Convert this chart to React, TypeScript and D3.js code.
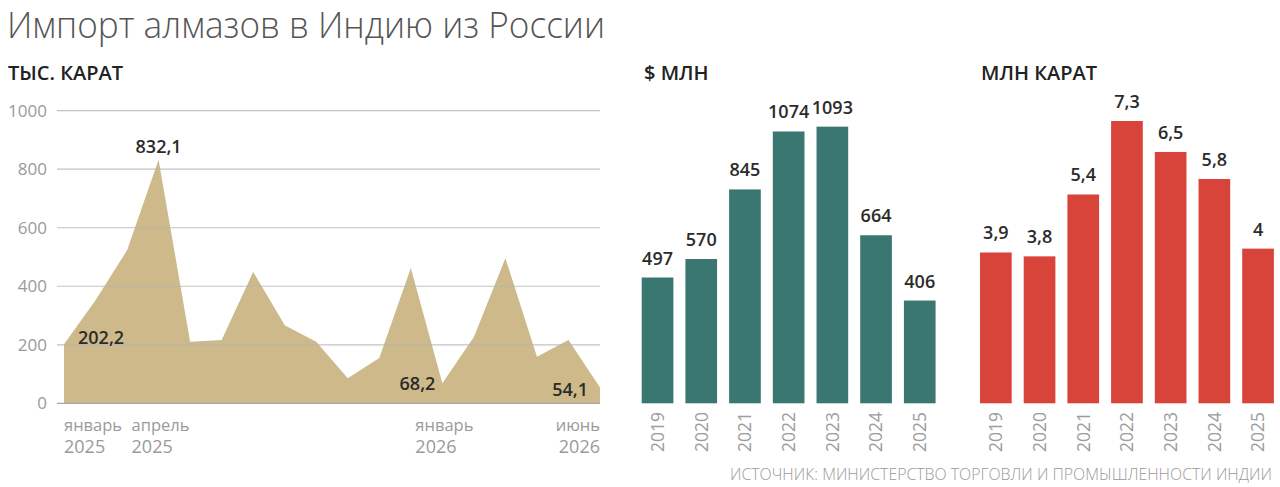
import { area as d3Area, curveLinear, scaleBand, scaleLinear } from "d3";

// Monthly imports, thousand carats (Jan 2025 – Jun 2026)
const months = [
  "январь 2025", "февраль 2025", "март 2025", "апрель 2025", "май 2025", "июнь 2025",
  "июль 2025", "август 2025", "сентябрь 2025", "октябрь 2025", "ноябрь 2025", "декабрь 2025",
  "январь 2026", "февраль 2026", "март 2026", "апрель 2026", "май 2026", "июнь 2026",
];
const monthlyCarats = [
  202.2, 352, 523, 832.1, 210, 216, 449, 267, 210, 86, 155, 462, 68.2, 227, 496, 159, 216, 54.1,
];
const labelledMonths = [0, 3, 12, 17];
const annotatedMonths = [0, 3, 12, 17];
const caratTicks = [0, 200, 400, 600, 800, 1000];

// Yearly totals
const years = ["2019", "2020", "2021", "2022", "2023", "2024", "2025"];
const usdMillions = [497, 570, 845, 1074, 1093, 664, 406];
const caratMillions = [3.9, 3.8, 5.4, 7.3, 6.5, 5.8, 4];

const fmt = (v: number) => String(v).replace(".", ",");
const FONT = "'Open Sans', 'Noto Sans', sans-serif";

function AreaPanel() {
  const x = scaleLinear().domain([0, months.length - 1]).range([64, 600]);
  const y = scaleLinear().domain([0, 1000]).range([403.3, 110.7]);
  const data = monthlyCarats.map((v, i) => ({ i, v }));
  const path =
    d3Area<(typeof data)[number]>()
      .x((d) => x(d.i))
      .y0(y(0))
      .y1((d) => y(d.v))
      .curve(curveLinear)(data) ?? "";

  const last = months.length - 1;

  return (
    <g fontFamily={FONT}>
      <text x={8} y={80} fontSize={20} fontWeight={600} fill="#222">
        ТЫС. КАРАТ
      </text>

      <path d={path} fill="#cdb98a" />

      {/* grid drawn over the area, as in the original */}
      {caratTicks.map((t) => (
        <g key={t}>
          <line
            x1={57}
            x2={600}
            y1={y(t)}
            y2={y(t)}
            stroke={t === 0 ? "#a9a9a9" : "#b4b4b4"}
            strokeOpacity={t === 0 ? 1 : 0.8}
            strokeWidth={1.2}
          />
          <text x={47} y={y(t)} dy="0.36em" textAnchor="end" fontSize={17} fill="#9a9a9a">
            {t}
          </text>
        </g>
      ))}

      {annotatedMonths.map((i) => {
        const px = x(i);
        const py = y(monthlyCarats[i]);
        let tx = px;
        let ty = py - 7;
        let anchor: "start" | "middle" | "end" = "middle";
        if (i === 0) {
          tx = px + 14;
          ty = py;
          anchor = "start";
        } else if (i === last) {
          tx = px - 12;
          ty = py + 9;
          anchor = "end";
        } else if (monthlyCarats[i] < 150) {
          tx = px - 7;
          ty = py + 7;
          anchor = "end";
        }
        return (
          <text key={i} x={tx} y={ty} textAnchor={anchor} fontSize={18} fontWeight={600} fill="#2b2b2b">
            {fmt(monthlyCarats[i])}
          </text>
        );
      })}

      {labelledMonths.map((i) => {
        const [m, yr] = months[i].split(" ");
        const anchor = i === last ? "end" : "start";
        const lx = i === 0 || i === last ? x(i) : x(i) - 27;
        return (
          <text key={i} textAnchor={anchor} fontSize={16.5} fill="#9a9a9a">
            <tspan x={lx} y={431}>{m}</tspan>
            <tspan x={lx} y={453} fontSize={18}>{yr}</tspan>
          </text>
        );
      })}
    </g>
  );
}

function BarPanel({
  title,
  values,
  x0,
  max,
  pxPerUnit,
  color,
  titleX,
}: {
  title: string;
  values: number[];
  x0: number;
  max: number;
  pxPerUnit: number;
  color: string;
  titleX: number;
}) {
  const x = scaleBand<string>()
    .domain(years)
    .range([x0, x0 + 305.9])
    .paddingInner(0.275)
    .paddingOuter(0.1375);
  const y = scaleLinear().domain([0, max]).range([403.3, 403.3 - max * pxPerUnit]);

  return (
    <g fontFamily={FONT}>
      <text x={titleX} y={80} fontSize={20} fontWeight={600} fill="#222">
        {title}
      </text>
      {years.map((yr, i) => {
        const bx = x(yr) ?? 0;
        const top = y(values[i]);
        const cx = bx + x.bandwidth() / 2;
        return (
          <g key={yr}>
            <rect x={bx} y={top} width={x.bandwidth()} height={y(0) - top} fill={color} />
            <text x={cx} y={top - 13} textAnchor="middle" fontSize={18} fontWeight={600} fill="#2b2b2b">
              {fmt(values[i])}
            </text>
            <text
              transform={`translate(${cx},${412}) rotate(-90)`}
              textAnchor="end"
              dy="0.36em"
              fontSize={17.5}
              fill="#9d9d9d"
            >
              {yr}
            </text>
          </g>
        );
      })}
    </g>
  );
}

export default function App() {
  return (
    <svg
      width={1280}
      height={487}
      viewBox="0 0 1280 487"
      style={{ position: "absolute", left: 0, top: 0, background: "#fff" }}
    >
      <rect width={1280} height={487} fill="#fff" />
      <text
        x={7}
        y={38}
        fontFamily={FONT}
        fontSize={36}
        fontWeight={300}
        fill="#555"
        textLength={598}
        lengthAdjust="spacingAndGlyphs"
      >
        Импорт алмазов в Индию из России
      </text>

      <AreaPanel />
      <BarPanel title="$ МЛН" values={usdMillions} x0={635.7} max={1200} pxPerUnit={0.2531} color="#3b7771" titleX={644} />
      <BarPanel title="МЛН КАРАТ" values={caratMillions} x0={974} max={8} pxPerUnit={38.67} color="#d8433a" titleX={981} />

      <text
        x={1272}
        y={480}
        textAnchor="end"
        fontFamily={FONT}
        fontSize={16}
        fontWeight={300}
        fill="#9a9a9a"
        textLength={542}
        lengthAdjust="spacingAndGlyphs"
      >
        ИСТОЧНИК: МИНИСТЕРСТВО ТОРГОВЛИ И ПРОМЫШЛЕННОСТИ ИНДИИ
      </text>
    </svg>
  );
}
